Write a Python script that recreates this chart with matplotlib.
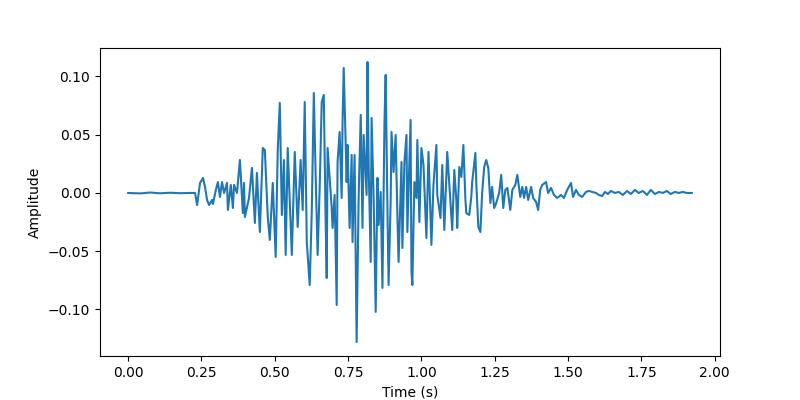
import numpy as np
import matplotlib
matplotlib.use('Agg')
import matplotlib.pyplot as plt

# tempos (s) dos picos e vales
tempo = [
    0.000, 0.041, 0.075, 0.109, 0.143, 0.177, 0.211, 0.228,
    0.235, 0.245, 0.255, 0.262, 0.269, 0.276, 0.286, 0.289, 0.299, 0.306,
    0.313, 0.320, 0.327, 0.337, 0.340, 0.350, 0.357, 0.361, 0.371,
    0.381, 0.391, 0.395, 0.398, 0.412, 0.422, 0.432, 0.439, 0.449, 0.459,
    0.466, 0.476, 0.483, 0.493, 0.503, 0.510, 0.517, 0.524, 0.531, 0.537,
    0.544, 0.558, 0.568, 0.578, 0.588, 0.595,
    0.602, 0.609, 0.619, 0.626, 0.633, 0.639, 0.646, 0.653, 0.660, 0.667,
    0.673, 0.677, 0.680, 0.694, 0.697, 0.704, 0.711, 0.714, 0.721, 0.728,
    0.731, 0.735, 0.745, 0.748, 0.755, 0.762, 0.765, 0.772, 0.779, 0.786,
    0.793, 0.799, 0.803, 0.813, 0.816, 0.820, 0.827, 0.830, 0.837, 0.844,
    0.850,
    0.854, 0.861, 0.864, 0.867, 0.874, 0.878, 0.884, 0.888, 0.895, 0.898,
    0.905, 0.912, 0.918, 0.922, 0.932, 0.935, 0.942, 0.949, 0.952, 0.963,
    0.966, 0.969, 0.976, 0.983, 0.986, 0.993, 1.000, 1.007, 1.017, 1.024,
    1.034, 1.041, 1.051, 1.054, 1.065, 1.071, 1.078, 1.088, 1.099, 1.105,
    1.112, 1.119, 1.122, 1.129, 1.136, 1.143, 1.150, 1.153, 1.163, 1.170,
    1.173, 1.184, 1.187, 1.194, 1.201, 1.207, 1.214, 1.221, 1.228, 1.235,
    1.241, 1.248, 1.255, 1.265, 1.272, 1.279, 1.286, 1.293, 1.303, 1.310,
    1.320, 1.327,
    1.337, 1.344, 1.350, 1.357, 1.364, 1.374, 1.381, 1.391, 1.398, 1.405,
    1.412, 1.425, 1.432, 1.442, 1.452, 1.463, 1.476, 1.486, 1.497, 1.510,
    1.517, 1.527, 1.537, 1.548, 1.561, 1.571, 1.582, 1.595, 1.605,
    1.616, 1.626, 1.636, 1.646, 1.660, 1.673, 1.687, 1.701, 1.714, 1.728,
    1.741, 1.755, 1.769, 1.782, 1.796, 1.810, 1.823, 1.837, 1.850, 1.864,
    1.878, 1.891, 1.905, 1.922,
]

# amplitudes correspondentes
amplitude = [
    0.0000, -0.0004, 0.0004, -0.0003, 0.0002, -0.0002, 0.0000, 0.0000,
    -0.0103, 0.0086, 0.0129, 0.0052, -0.0060, -0.0103, -0.0060, -0.0094, 0.0026, 0.0094,
    -0.0034, 0.0094, 0.0000, 0.0086, -0.0146, 0.0069, -0.0129, 0.0069, 0.0000,
    0.0283, -0.0172, 0.0086, -0.0206, -0.0043, 0.0215, -0.0258, 0.0172, -0.0335, 0.0386,
    0.0369, -0.0206, -0.0403, 0.0086, -0.0549, 0.0369, 0.0773, -0.0189, 0.0283, -0.0532,
    0.0386, -0.0532, 0.0352, -0.0292, 0.0283, -0.0146,
    0.0781, -0.0421, -0.0790, -0.0163, 0.0858, 0.0180, -0.0532, 0.0043, 0.0781, 0.0841,
    -0.0189, -0.0730, 0.0386, -0.0129, -0.0300, -0.0017, -0.0961, 0.0266, 0.0524, -0.0043,
    0.0609, 0.1073, 0.0094, 0.0412, -0.0300, 0.0326, -0.0421, 0.0326, -0.1279, -0.0017,
    0.0670, -0.0300, 0.0498, -0.0017, 0.1124, 0.0240, -0.0592, 0.0644, -0.0043, -0.1021,
    0.0129,
    -0.0275, 0.0009, -0.0386, -0.0815, 0.0609, 0.1013, -0.0129, -0.0790, -0.0077, 0.0524,
    0.0180, 0.0498, -0.0189, -0.0592, 0.0266, -0.0472, 0.0266, 0.0498, -0.0335, 0.0627,
    -0.0678, -0.0790, 0.0094, -0.0043, 0.0455, -0.0249, 0.0386, 0.0240, -0.0386, 0.0352,
    -0.0446, 0.0069, 0.0412, -0.0017, -0.0215, 0.0240, -0.0318, 0.0352, -0.0086, -0.0318,
    0.0197, -0.0060, -0.0300, 0.0223, 0.0137, 0.0412, -0.0060, -0.0172, -0.0189, -0.0034,
    0.0094, 0.0343, 0.0086, -0.0292, -0.0335, 0.0000, 0.0223, 0.0283, 0.0215, -0.0086,
    0.0052, -0.0129, -0.0086, 0.0000, 0.0155, -0.0129, 0.0026, 0.0043, -0.0146, 0.0026,
    0.0069, 0.0155,
    -0.0034, 0.0052, -0.0043, 0.0052, -0.0060, 0.0052, -0.0043, -0.0077, -0.0146, 0.0026,
    0.0069, 0.0094, 0.0000, 0.0043, -0.0017, -0.0043, -0.0017, -0.0043, 0.0026, 0.0086,
    -0.0034, 0.0026, -0.0017, -0.0034, 0.0009, 0.0017, 0.0009, 0.0000, -0.0017,
    -0.0026, 0.0009, -0.0009, 0.0017, 0.0000, 0.0009, -0.0017, 0.0017, -0.0009, 0.0026,
    0.0000, 0.0017, -0.0017, 0.0026, -0.0009, 0.0009, 0.0000, 0.0017, -0.0009, 0.0009,
    0.0000, 0.0009, 0.0000, 0.0000,
]

t = np.array(tempo)
y = np.array(amplitude)

plt.figure(figsize=(8, 4), dpi=100)
plt.plot(t, y)
plt.xlabel('Time (s)')
plt.ylabel('Amplitude')
plt.savefig('out.png', dpi=100)
